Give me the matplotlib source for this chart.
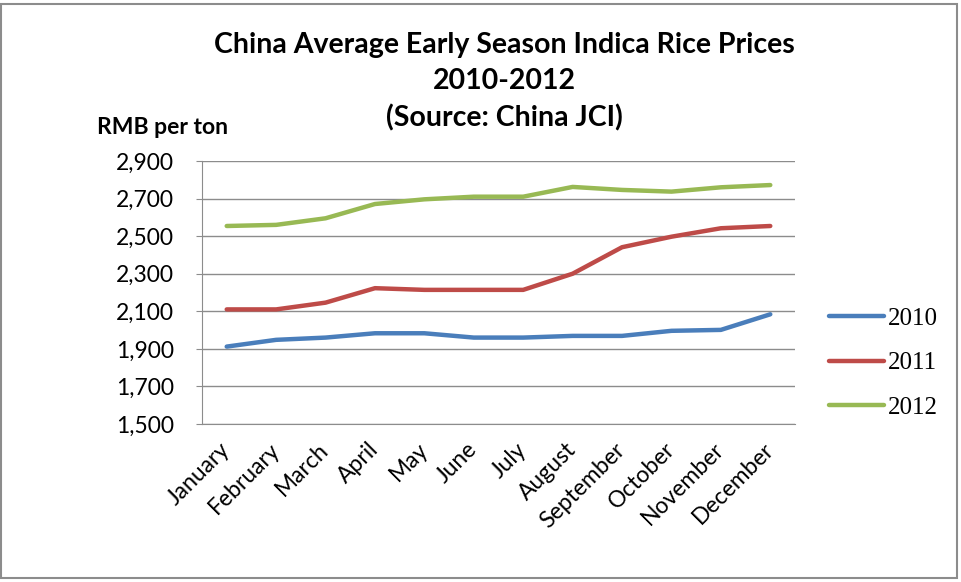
import matplotlib.pyplot as plt
from matplotlib.patches import Rectangle
from matplotlib.ticker import FuncFormatter

months = ["January", "February", "March", "April", "May", "June",
          "July", "August", "September", "October", "November", "December"]
years = ["2010", "2011", "2012"]
price_2010 = [1912, 1948, 1960, 1983, 1983, 1960, 1960, 1969, 1969, 1996, 2001, 2084]
price_2011 = [2110, 2110, 2146, 2223, 2214, 2214, 2214, 2300, 2441, 2497, 2542, 2554]
price_2012 = [2554, 2560, 2595, 2671, 2696, 2710, 2710, 2762, 2746, 2737, 2760, 2772]
colors = ["#4a7ebb", "#be4b48", "#98b954"]

plt.rcParams["font.family"] = ["Lato", "DejaVu Sans"]

fig = plt.figure(figsize=(9.62, 5.82), dpi=100)
ax = fig.add_axes([202 / 962, 1 - 424 / 582, (795 - 202) / 962, (424 - 161) / 582])

x = list(range(len(months)))
for vals, c, lab in zip([price_2010, price_2011, price_2012], colors, years):
    ax.plot(x, vals, color=c, lw=3.2, label=lab, solid_capstyle="round")

ax.set_xlim(-0.5, 11.5)
ax.set_ylim(1500, 2900)
ax.set_yticks(range(1500, 2901, 200))
ax.yaxis.set_major_formatter(FuncFormatter(lambda v, p: f"{int(v):,}"))
ax.set_xticks(x)
ax.set_xticklabels(months, rotation=45, ha="right", va="center",
                   rotation_mode="anchor")
ax.grid(axis="y", color="#8c8c8c", lw=1)
ax.set_axisbelow(True)
for s in ["top", "right"]:
    ax.spines[s].set_visible(False)
for s in ["left", "bottom"]:
    ax.spines[s].set_color("#8c8c8c")
ax.tick_params(axis="y", length=4, color="#8c8c8c", labelsize=16.5, pad=16)
ax.tick_params(axis="x", length=0, labelsize=16.5, pad=16)

fig.text(0.524, 1 - 45 / 582, "China Average Early Season Indica Rice Prices",
         ha="center", va="center", fontsize=20.5, fontweight="bold")
fig.text(0.524, 1 - 81 / 582, "2010-2012", ha="center", va="center",
         fontsize=20.5, fontweight="bold")
fig.text(0.524, 1 - 118 / 582, "(Source: China JCI)", ha="center", va="center",
         fontsize=20.5, fontweight="bold")
fig.text(97 / 962, 1 - 127 / 582, "RMB per ton", ha="left", va="center",
         fontsize=16.5, fontweight="bold")

fig.legend(loc="center left", bbox_to_anchor=(807 / 962, 1 - 363 / 582),
           frameon=False, prop={"family": "Liberation Serif", "size": 18},
           handlelength=2.2, labelspacing=0.88, handletextpad=0.15)

fig.patches.append(Rectangle((1 / 962, 4 / 582), 956 / 962, 574 / 582,
                             transform=fig.transFigure, fill=False,
                             edgecolor="#8c8c8c", lw=1.5))

fig.savefig("out.png", dpi=100)
